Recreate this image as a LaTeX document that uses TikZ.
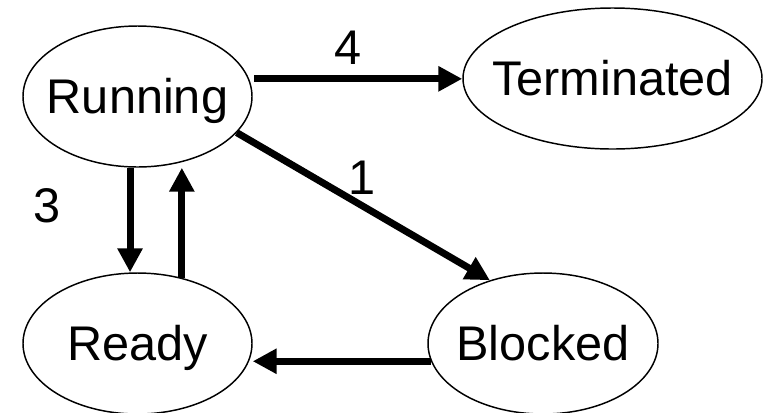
\documentclass[tikz,border=0pt]{standalone}
\usepackage{fontspec}
\setmainfont{Liberation Sans}
\usetikzlibrary{arrows.meta}
\usetikzlibrary{shapes.geometric}
\tikzset{
    state_node/.style = {ellipse, draw=black, line width=1.1pt, inner sep=0pt, minimum height=105.75pt},
    state_text/.style = {inner sep=0pt, text height=26pt, text depth=0pt},
    num_label/.style = {inner sep=0pt, align=center},
    trans_edge/.style = {->, line width=5.25pt}
}

\begin{document}
\begin{tikzpicture}
            [x=0.75pt, y=-0.75pt,
            >={Triangle[length=18pt, width=18pt]},
            font=\fontsize{36.5pt}{44pt}\selectfont]

            \useasboundingbox (0,0) rectangle (770,412);

            \node [state_node, minimum width=171.75pt, label={[state_text]center:Running}] (running) at (137.5,96.5) {};
            \node [state_node, minimum width=224.25pt, label={[state_text]center:Terminated}] (terminated) at (612.5,78.5) {};
            \node [state_node, minimum width=171.75pt, label={[state_text]center:Ready}] (ready) at (137.5,343.5) {};
            \node [state_node, minimum width=172.5pt, label={[state_text]center:Blocked}] (blocked) at (543,343.5) {};

            \node [num_label] (lbl_four) at (348,48) {4};
            \node [num_label] (lbl_one) at (362,178) {1};
            \node [num_label] (lbl_three) at (47,206) {3};

            \draw [trans_edge, shorten <=4pt] (running.9) -- (running.9 -| terminated.west);
            \draw [trans_edge] (running.-20) -- (blocked.130);
            \draw [trans_edge] (running.-96) -- (running.-96 |- ready.north);
            \draw [trans_edge] (ready.56) -- (ready.56 |- running.south);
            \draw [trans_edge] (blocked.189) -- (blocked.189 -| ready.east);
        \end{tikzpicture}
\end{document}
